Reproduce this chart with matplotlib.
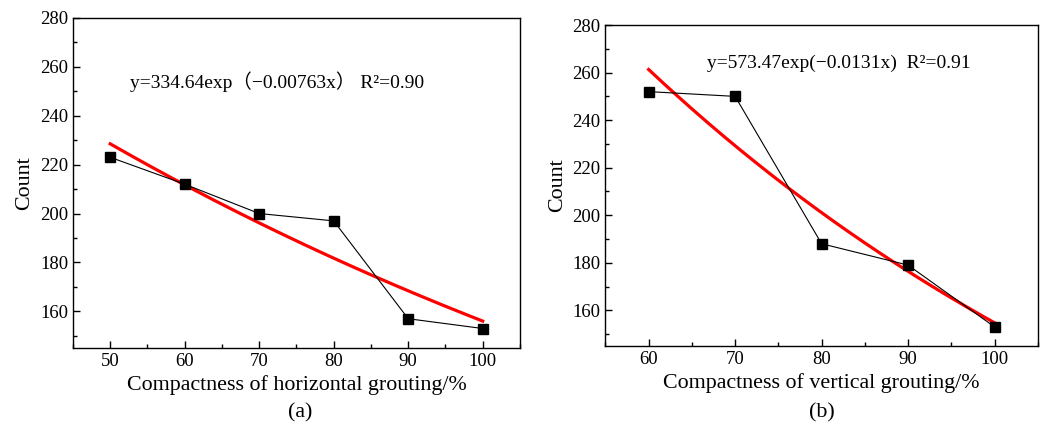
import numpy as np
import matplotlib
matplotlib.use("Agg")
import matplotlib.pyplot as plt
from matplotlib.ticker import MultipleLocator

plt.rcParams['font.family'] = ['Liberation Serif', 'Noto Sans CJK SC', 'DejaVu Serif']

# Horizontal grouting data and fit
h_x = [50, 60, 70, 80, 90, 100]
h_count = [223, 212, 200, 197, 157, 153]
h_a, h_b = 334.64, -0.00763
h_eq = "y=334.64exp\uff08\u22120.00763x\uff09 R\u00b2=0.90"

# Vertical grouting data and fit
v_x = [60, 70, 80, 90, 100]
v_count = [252, 250, 188, 179, 153]
v_a, v_b = 573.47, -0.0131
v_eq = "y=573.47exp(\u22120.0131x)  R\u00b2=0.91"

fig = plt.figure(figsize=(10.42, 4.25), dpi=100)
ax1 = fig.add_axes([0.070, 0.181, 0.429, 0.777])
ax2 = fig.add_axes([0.581, 0.186, 0.415, 0.755])


def style(ax, xlim, xlabel):
    ax.set_xlim(*xlim)
    ax.set_ylim(145, 280)
    ax.xaxis.set_major_locator(MultipleLocator(10))
    ax.xaxis.set_minor_locator(MultipleLocator(5))
    ax.yaxis.set_major_locator(MultipleLocator(20))
    ax.yaxis.set_minor_locator(MultipleLocator(10))
    ax.tick_params(which='both', direction='in', top=False, right=False,
                   labelsize=13.5, width=1)
    ax.tick_params(which='major', length=5)
    ax.tick_params(which='minor', length=3)
    for s in ax.spines.values():
        s.set_linewidth(1)
    ax.set_xlabel(xlabel, fontsize=15.8, labelpad=4)
    ax.set_ylabel("Count", fontsize=15.8, labelpad=4)


def draw(ax, xs, ys, a, b, eq, eq_pos, fs):
    ax.plot(xs, ys, color='black', lw=0.8, marker='s', ms=6.5,
            markerfacecolor='black', zorder=3)
    xf = np.linspace(xs[0], xs[-1], 200)
    ax.plot(xf, a * np.exp(b * xf), color='#ff0000', lw=2.3, zorder=2)
    ax.text(*eq_pos, eq, fontsize=fs, va='center', ha='left')


style(ax1, (45, 105), "Compactness of horizontal grouting/%")
style(ax2, (55, 105), "Compactness of vertical grouting/%")
draw(ax1, h_x, h_count, h_a, h_b, h_eq, (52.6, 254), 14)
draw(ax2, v_x, v_count, v_a, v_b, v_eq, (66.8, 264), 14)

fig.text(0.288, 0.028, "(a)", fontsize=15.8, ha='center', va='center')
fig.text(0.789, 0.028, "(b)", fontsize=15.8, ha='center', va='center')

fig.savefig("out.png", dpi=100)
